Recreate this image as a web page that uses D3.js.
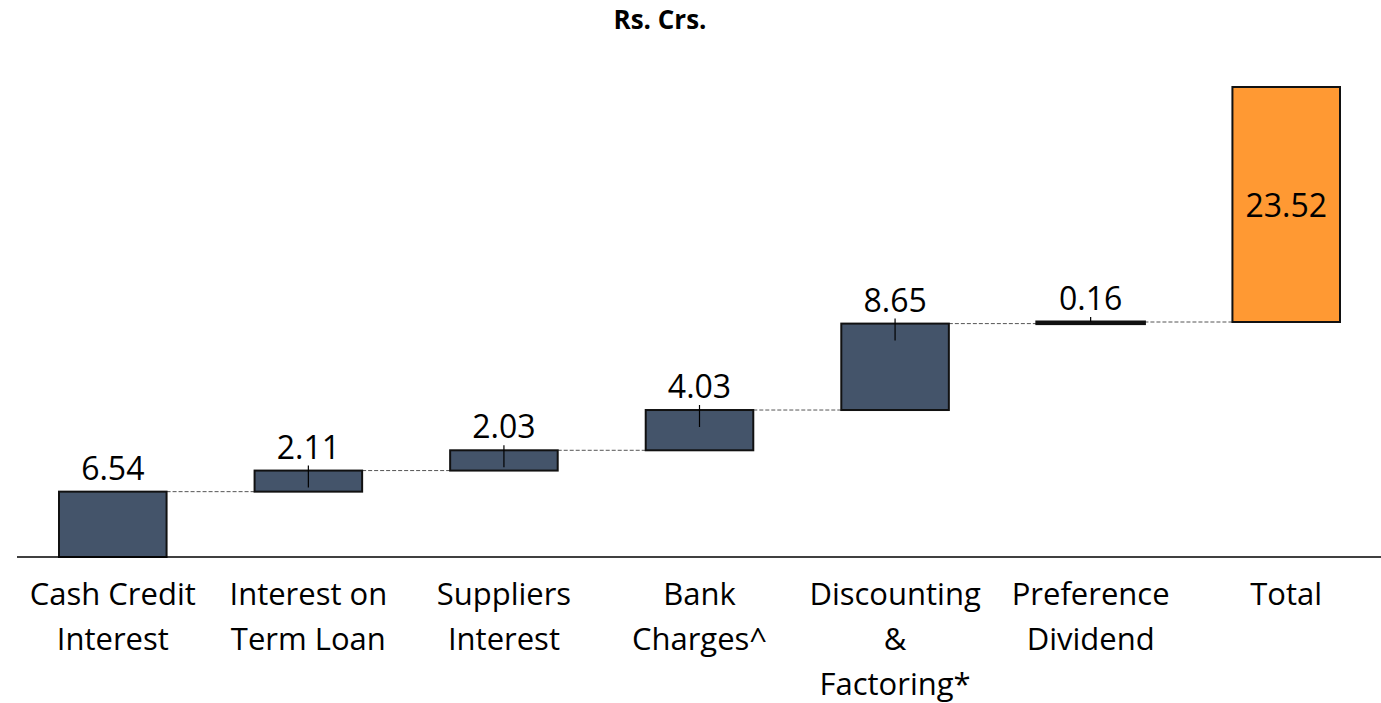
<!DOCTYPE html>
<meta charset="utf-8">
<head>
    <style>
        body { margin: 0; background: #fff; }
        text { font-family: "Open Sans", "Noto Sans", sans-serif; fill: #000; }
        .connector { stroke: #555; stroke-width: 1; stroke-dasharray: 4,2; }
    </style>
</head>
<body>
    <svg width="1381" height="703"></svg>
</body>
<script src="https://d3js.org/d3.v7.min.js"></script>
<script>

    var categories = ["Cash Credit|Interest", "Interest on|Term Loan", "Suppliers|Interest", "Bank|Charges^",
        "Discounting|&|Factoring*", "Preference|Dividend", "Total"];
    var values = [6.54, 2.11, 2.03, 4.03, 8.65, 0.16];
    var total = 23.52;

    var svg = d3.select("svg"),
        width = +svg.attr("width"),
        height = +svg.attr("height");

    var x = d3.scaleBand()
        .domain(categories)
        .range([15, 1384])
        .paddingInner(0.45)
        .paddingOuter(0.225);

    var y = d3.scaleLinear()
        .domain([0, total])
        .range([557, 322]);

    // build the running totals
    var rows = [], run = 0;
    values.forEach(function (v, i) {
        rows.push({ cat: categories[i], start: run, end: run + v, value: v, total: false });
        run += v;
    });
    // total bar sits on an invisible base at the running total
    rows.push({ cat: categories[6], start: run, end: run + total, value: total, total: true });

    svg.append("text")
        .attr("x", 660)
        .attr("y", 29)
        .attr("text-anchor", "middle")
        .style("font-weight", "bold")
        .style("font-size", "26px")
        .text("Rs. Crs.");

    // dashed connectors
    svg.append("g").selectAll("line")
        .data(rows.slice(0, -1))
        .enter().append("line")
        .attr("class", "connector")
        .attr("x1", function (d) { return x(d.cat) + x.bandwidth(); })
        .attr("x2", function (d, i) { return x(rows[i + 1].cat); })
        .attr("y1", function (d) { return y(d.end); })
        .attr("y2", function (d) { return y(d.end); });

    var bars = svg.append("g").selectAll("rect")
        .data(rows)
        .enter().append("rect")
        .attr("x", function (d) { return x(d.cat); })
        .attr("width", x.bandwidth())
        .attr("y", function (d) { return y(d.end); })
        .attr("height", function (d) { return Math.max(y(d.start) - y(d.end), 1); })
        .attr("fill", function (d) { return d.total ? "#FF9933" : "#44546A"; })
        .attr("stroke", "#111")
        .attr("stroke-width", function (d) { return d.value < 0.5 ? 3 : 2; });

    // little tick marks on the bar tops
    svg.append("g").selectAll("line")
        .data(rows.slice(1, -1))
        .enter().append("line")
        .attr("x1", function (d) { return x(d.cat) + x.bandwidth() / 2; })
        .attr("x2", function (d) { return x(d.cat) + x.bandwidth() / 2; })
        .attr("y1", function (d) { return y(d.end) - 5; })
        .attr("y2", function (d) { return d.value < 0.5 ? y(d.end) : y(d.end) + 17; })
        .attr("stroke", "#000")
        .attr("stroke-width", 1.2);

    // value labels
    svg.append("g").selectAll("text")
        .data(rows)
        .enter().append("text")
        .attr("x", function (d) { return x(d.cat) + x.bandwidth() / 2; })
        .attr("y", function (d) { return d.total ? (y(d.start) + y(d.end)) / 2 + 12 : y(d.end) - 12; })
        .attr("text-anchor", "middle")
        .style("font-size", "32px")
        .text(function (d) { return d.value.toFixed(2); });

    // baseline
    svg.append("line")
        .attr("x1", 17).attr("x2", width)
        .attr("y1", y(0)).attr("y2", y(0))
        .attr("stroke", "#000")
        .attr("stroke-width", 1.5);

    // category labels
    var labels = svg.append("g").selectAll("text")
        .data(categories)
        .enter().append("text")
        .attr("x", function (d) { return x(d) + x.bandwidth() / 2; })
        .attr("y", 605)
        .attr("text-anchor", "middle")
        .style("font-size", "31px");

    labels.selectAll("tspan")
        .data(function (d) { return d.split("|"); })
        .enter().append("tspan")
        .attr("x", function () { return this.parentNode.getAttribute("x"); })
        .attr("dy", function (d, i) { return i ? 45 : 0; })
        .text(function (d) { return d; });

</script>
